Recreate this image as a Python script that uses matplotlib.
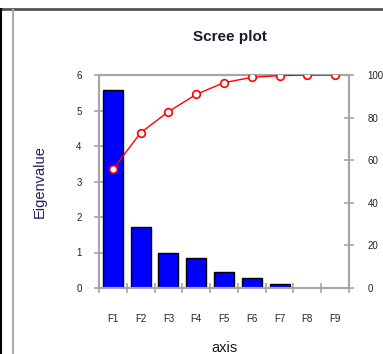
import matplotlib
matplotlib.use('Agg')
import matplotlib.pyplot as plt
from matplotlib.lines import Line2D

# Data
factors = ['F1', 'F2', 'F3', 'F4', 'F5', 'F6', 'F7', 'F8', 'F9']
eigenvalues = [5.58, 1.73, 0.99, 0.85, 0.46, 0.28, 0.10, 0.01, 0.0]
cumulative = [55.7, 72.9, 82.8, 90.9, 96.4, 98.9, 99.7, 100.0, 100.0]

plt.rcParams['font.family'] = ['Liberation Sans', 'DejaVu Sans']
axis_grey = '#a6a6a6'

fig = plt.figure(figsize=(3.83, 3.54), dpi=100)
ax1 = fig.add_axes([99 / 383, 1 - 288 / 354, 250 / 383, 213 / 354])

x = list(range(len(factors)))
ax1.bar(x, eigenvalues, width=0.72, color='#0000ff', edgecolor='black', linewidth=1.0, zorder=2)
ax1.set_xlim(-0.5, len(factors) - 0.5)
ax1.set_ylim(0, 6)
ax1.set_yticks(range(0, 7))
ax1.set_xticks(x)
ax1.set_xticklabels(factors)
ax1.set_xticks([i - 0.5 for i in range(len(factors) + 1)], minor=True)
ax1.tick_params(axis='x', which='major', length=0, pad=19, labelsize=7, labelcolor='#222222')
ax1.tick_params(axis='x', which='minor', direction='inout', length=7, width=1.2, color=axis_grey)
ax1.tick_params(axis='y', direction='inout', length=7, width=1.2, color=axis_grey, pad=9,
                labelsize=7, labelcolor='#222222')
for s in ax1.spines.values():
    s.set_color(axis_grey)
    s.set_linewidth(1.5)

ax1.set_ylabel('Eigenvalue', fontsize=10.5, color='#1f1f5f')
ax1.yaxis.set_label_coords(-52 / 250, 0.5)
ax1.set_xlabel('axis', fontsize=10.5, va='center', color='#1a1a2e')
ax1.xaxis.set_label_coords(0.5, -60 / 213)
fig.text(230 / 383, 1 - 37 / 354, 'Scree plot', fontsize=11, fontweight='bold',
         color='#1a1a2e', ha='center', va='center')

# Cumulative variability on secondary axis
ax2 = ax1.twinx()
ax2.plot(x, cumulative, color='#ff0000', linewidth=1.0, marker='o', markersize=5.5,
         markerfacecolor='white', markeredgecolor='#ff0000', markeredgewidth=1.2, zorder=3)
ax2.set_ylim(0, 100)
ax2.set_yticks(range(0, 101, 20))
ax2.tick_params(axis='y', direction='inout', length=7, width=1.2, color=axis_grey, pad=10,
                labelsize=7, labelcolor='#222222')
for s in ax2.spines.values():
    s.set_color(axis_grey)
    s.set_linewidth(1.5)

# Outer frame lines of the original chart window
fig.add_artist(Line2D([0, 1], [1 - 9 / 354, 1 - 9 / 354], color='#555555', linewidth=2))
fig.add_artist(Line2D([0.5 / 383, 0.5 / 383], [0, 1 - 9 / 354], color='black', linewidth=1.5))
fig.add_artist(Line2D([12.5 / 383, 12.5 / 383], [0, 1 - 10 / 354], color='#aaaaaa', linewidth=1.5))

fig.savefig('out.png', dpi=100)
